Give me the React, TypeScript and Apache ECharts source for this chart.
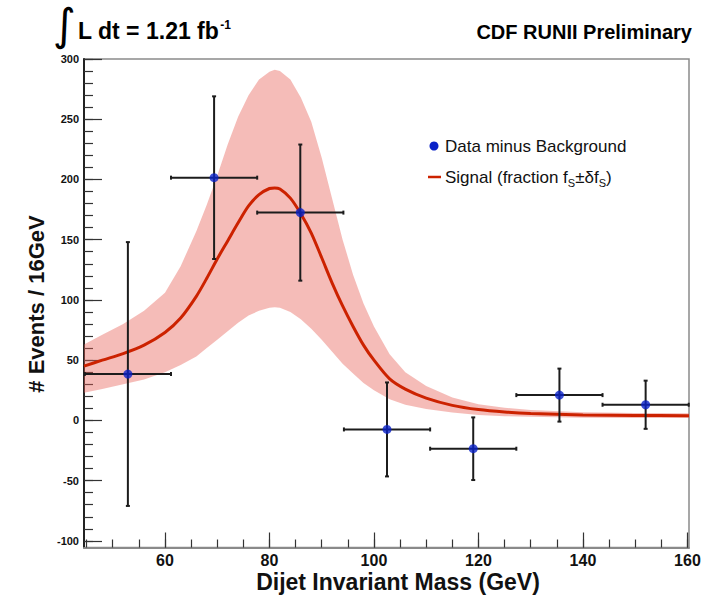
import React, { useEffect, useRef } from 'react';
import * as echarts from 'echarts';

// Data points (data minus background)
const pointMass = [52.9, 69.4, 85.9, 102.5, 119.0, 135.5, 152.0];
const pointEvents = [38.5, 201.5, 172.5, -7.5, -23.5, 21, 13];
const pointErrY = [109.5, 67.5, 56.5, 39, 26, 22, 20];
const pointHalfBin = [8.25, 8.25, 8.25, 8.25, 8.25, 8.25, 8.25];

// Signal curve and its band
const curveMass = [44.5, 48, 52, 56, 60, 63, 66, 68, 70, 72, 74, 76, 78, 80, 81, 82, 84, 86, 88, 90, 92, 94, 96, 98, 100, 103, 106, 110, 115, 120, 125, 130, 140, 150, 160.3];
const curveSignal = [45, 50, 55.5, 62.5, 73, 85, 103, 118, 134, 149, 164, 178, 187.5, 192.5, 193, 192, 184.5, 171.5, 155.5, 135, 114, 95, 78, 62.5, 50, 34.5, 26, 18.5, 12.5, 9, 7, 5.8, 4.5, 4.1, 3.9];
const bandHigh = [63, 71, 80, 91, 106, 128, 157, 179, 203, 229, 252, 270, 283, 289.5, 291, 290, 283, 268, 248, 218, 184, 150, 121, 97, 78, 55, 40, 28.5, 19, 13.5, 10.5, 8.7, 6.8, 6.2, 5.9];
const bandLow = [23, 26, 30, 34, 40, 46, 53, 60, 67, 74, 81, 87, 91, 93.5, 94, 93.5, 90, 84, 76, 67, 57, 47, 39, 31, 25, 17.5, 13, 9.5, 6.5, 4.5, 3.5, 3, 2.3, 2.1, 2];

// Axis ticks
const yMajor = [-100, -50, 0, 50, 100, 150, 200, 250, 300];
const yMinor = [-100, -90, -80, -70, -60, -50, -40, -30, -20, -10, 0, 10, 20, 30, 40, 50, 60, 70, 80, 90, 100, 110, 120, 130, 140, 150, 160, 170, 180, 190, 200, 210, 220, 230, 240, 250, 260, 270, 280, 290, 300];
const xMajor = [60, 80, 100, 120, 140, 160];
const xMinor = [45, 50, 55, 60, 65, 70, 75, 80, 85, 90, 95, 100, 105, 110, 115, 120, 125, 130, 135, 140, 145, 150, 155, 160];

const X_MIN = 44.5;
const X_MAX = 160.3;
const Y_MIN = -105.5;
const Y_MAX = 300;

const FONT = '"Liberation Sans", Arial, sans-serif';

export default function App() {
  const ref = useRef<HTMLDivElement>(null);
  useEffect(() => {
    if (!ref.current) return;
    const chart = echarts.init(ref.current, null, { renderer: 'svg' });

    const bandData = curveMass.map((m, i) => [m, bandLow[i], bandHigh[i]]);
    const sigData = curveMass.map((m, i) => [m, curveSignal[i]]);
    const errData = pointMass.map((m, i) => [m, pointEvents[i], pointHalfBin[i], pointErrY[i]]);
    const ptData = pointMass.map((m, i) => [m, pointEvents[i]]);

    const commonX = { type: 'value', min: X_MIN, max: X_MAX, gridIndex: 0, splitLine: { show: false } };
    const commonY = { type: 'value', min: Y_MIN, max: Y_MAX, gridIndex: 0, splitLine: { show: false } };

    chart.setOption({
      animation: false,
      grid: {
        left: 84, top: 59, right: 22, bottom: 55.5,
        show: true, borderColor: '#8a8a8a', borderWidth: 1.5, backgroundColor: 'transparent',
      },
      xAxis: [
        {
          ...commonX,
          position: 'bottom',
          axisLine: { show: true, onZero: false, lineStyle: { color: '#8a8a8a', width: 2 } },
          axisTick: { show: true, inside: true, length: 15, customValues: xMajor, lineStyle: { color: '#333', width: 1.2 } },
          axisLabel: { show: true, customValues: xMajor, fontSize: 16, fontWeight: 'bold', fontFamily: FONT, color: '#111', margin: 5 },
        },
        {
          ...commonX,
          position: 'bottom',
          axisLine: { show: false, onZero: false },
          axisTick: { show: true, inside: true, length: 8, customValues: xMinor, lineStyle: { color: '#333', width: 1.2 } },
          axisLabel: { show: false },
        },
      ],
      yAxis: [
        {
          ...commonY,
          position: 'left',
          axisLine: { show: true, onZero: false, lineStyle: { color: '#222', width: 2 } },
          axisTick: { show: true, inside: true, length: 18, customValues: yMajor, lineStyle: { color: '#333', width: 1.2 } },
          axisLabel: { show: true, customValues: yMajor, fontSize: 11, fontWeight: 'bold', fontFamily: FONT, color: '#111', margin: 5 },
        },
        {
          ...commonY,
          position: 'left',
          axisLine: { show: false, onZero: false },
          axisTick: { show: true, inside: true, length: 9, customValues: yMinor, lineStyle: { color: '#333', width: 1.2 } },
          axisLabel: { show: false },
        },
      ],
      series: [
        {
          type: 'custom', name: 'band', data: bandData, xAxisIndex: 0, yAxisIndex: 0, z: 1, silent: true, clip: true,
          encode: { x: 0, y: [1, 2] },
          renderItem: (params: any, api: any) => {
            if (params.dataIndex !== 0) return null;
            const upper = bandData.map((d) => api.coord([d[0], d[2]]));
            const lower = bandData.map((d) => api.coord([d[0], d[1]])).reverse();
            return {
              type: 'polygon',
              shape: { points: upper.concat(lower) },
              style: { fill: 'rgba(232, 95, 85, 0.42)', stroke: 'none' },
            };
          },
        },
        {
          type: 'line', name: 'Signal', data: sigData, symbol: 'none', smooth: 0.3,
          lineStyle: { color: '#cc2200', width: 3 }, xAxisIndex: 0, yAxisIndex: 0, z: 3,
        },
        {
          type: 'custom', name: 'errors', data: errData, xAxisIndex: 0, yAxisIndex: 0, z: 4,
          encode: { x: 0, y: 1 },
          renderItem: (params: any, api: any) => {
            const x = api.value(0), y = api.value(1), hw = api.value(2), e = api.value(3);
            const l = api.coord([x - hw, y]);
            const r = api.coord([x + hw, y]);
            const t = api.coord([x, y + e]);
            const b = api.coord([x, y - e]);
            const style = { stroke: '#1c1c1c', lineWidth: 2 };
            const cap = 2;
            return {
              type: 'group',
              children: [
                { type: 'line', shape: { x1: l[0], y1: l[1], x2: r[0], y2: r[1] }, style },
                { type: 'line', shape: { x1: t[0], y1: t[1], x2: b[0], y2: b[1] }, style },
                { type: 'line', shape: { x1: l[0], y1: l[1] - cap, x2: l[0], y2: l[1] + cap }, style },
                { type: 'line', shape: { x1: r[0], y1: r[1] - cap, x2: r[0], y2: r[1] + cap }, style },
                { type: 'line', shape: { x1: t[0] - cap, y1: t[1], x2: t[0] + cap, y2: t[1] }, style },
                { type: 'line', shape: { x1: b[0] - cap, y1: b[1], x2: b[0] + cap, y2: b[1] }, style },
              ],
            };
          },
        },
        {
          type: 'scatter', name: 'Data minus Background', data: ptData, symbol: 'circle', symbolSize: 9,
          itemStyle: { color: '#0a22c8' }, xAxisIndex: 0, yAxisIndex: 0, z: 5,
        },
      ],
      graphic: [
        { type: 'text', left: 53, top: 2, style: { text: '∫', font: '44px "DejaVu Sans"', fill: '#000' } },
        {
          type: 'text', x: 78, y: 31,
          style: {
            text: '{a|L dt = 1.21 fb}{p|-1}', verticalAlign: 'middle', align: 'left',
            rich: {
              a: { fontSize: 23, fontWeight: 'bold', fontFamily: FONT, fill: '#000', lineHeight: 26 },
              p: { fontSize: 12, fontWeight: 'bold', fontFamily: FONT, fill: '#000', lineHeight: 12, padding: [0, 0, 13, 1] },
            },
          },
        },
        {
          type: 'text', x: 692, y: 32,
          style: { text: 'CDF RUNII Preliminary', font: `bold 20px ${FONT}`, fill: '#000', align: 'right', verticalAlign: 'middle' },
        },
        { type: 'circle', shape: { cx: 434, cy: 146, r: 4.5 }, style: { fill: '#0a22c8' } },
        {
          type: 'text', x: 445, y: 146,
          style: { text: 'Data minus Background', font: `17px ${FONT}`, fill: '#111', verticalAlign: 'middle' },
        },
        { type: 'line', shape: { x1: 428, y1: 177, x2: 441, y2: 177 }, style: { stroke: '#cc2200', lineWidth: 2.5 } },
        {
          type: 'text', x: 445, y: 177,
          style: {
            text: '{a|Signal (fraction f}{b|S}{a|±δf}{b|S}{a|)}', verticalAlign: 'middle', align: 'left',
            rich: {
              a: { fontSize: 17, fontFamily: FONT, fill: '#111', lineHeight: 20 },
              b: { fontSize: 11, fontFamily: FONT, fill: '#111', lineHeight: 11, padding: [11, 0, 0, 0] },
            },
          },
        },
        {
          type: 'text', x: 398, y: 582,
          style: { text: 'Dijet Invariant Mass (GeV)', font: `bold 23px ${FONT}`, fill: '#111', align: 'center', verticalAlign: 'middle' },
        },
        {
          type: 'text', x: 36, y: 304, rotation: Math.PI / 2,
          style: { text: '# Events / 16GeV', font: `bold 22px ${FONT}`, fill: '#111', align: 'center', verticalAlign: 'middle' },
        },
      ],
    });
    return () => chart.dispose();
  }, []);
  return <div ref={ref} style={{ position: 'fixed', left: 0, top: 0, width: 711, height: 603, background: '#fff' }} />;
}
